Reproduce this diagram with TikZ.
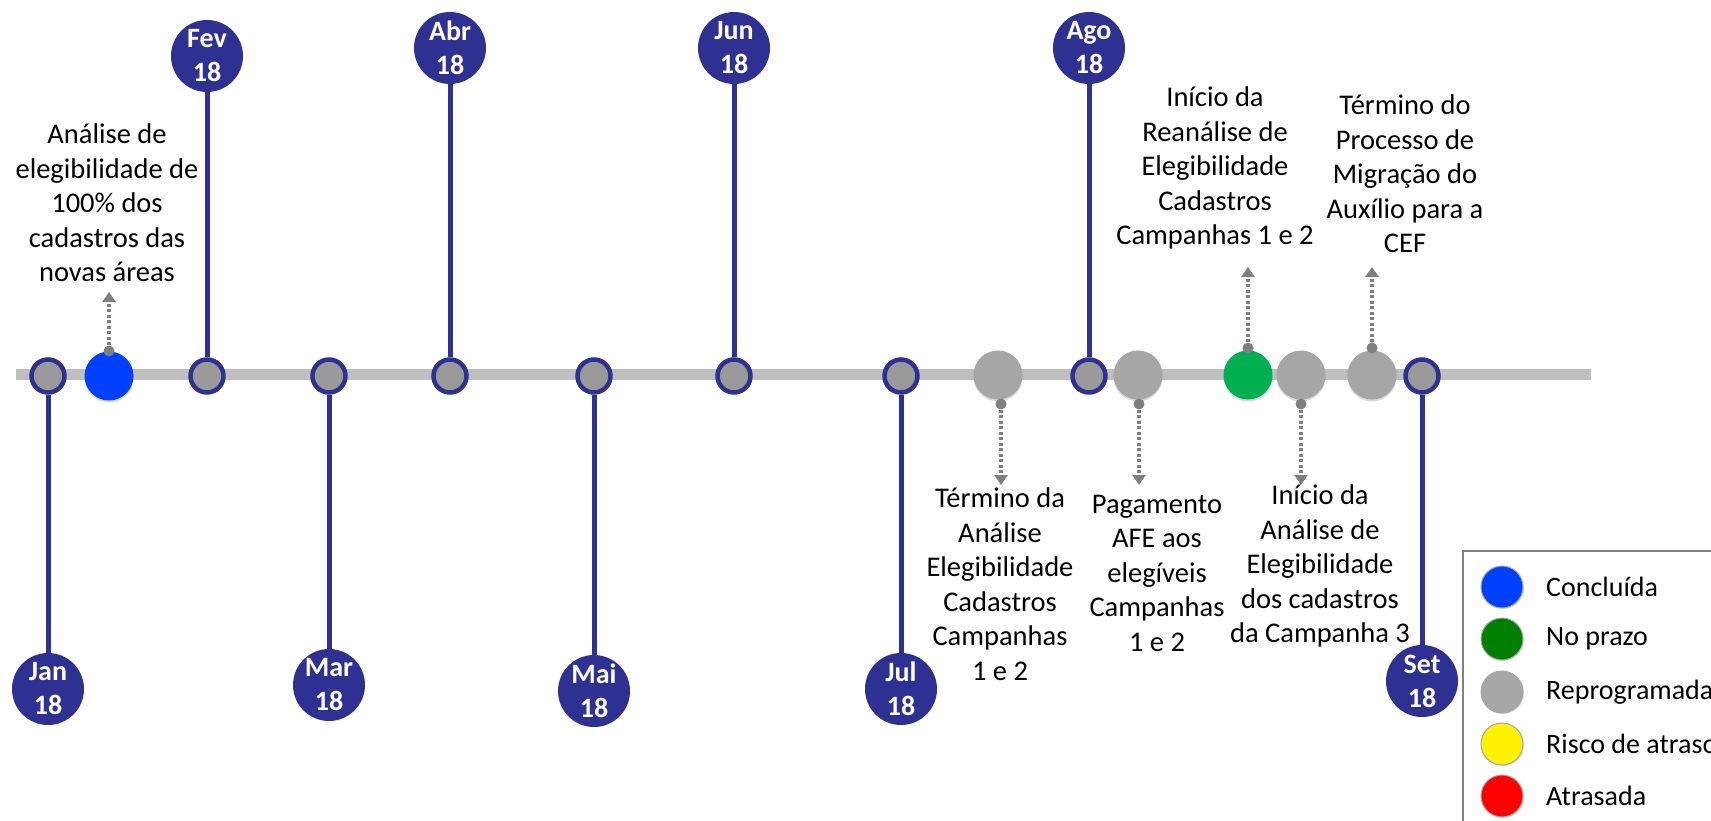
\documentclass[tikz,border=0pt]{standalone}
\usepackage{fontspec}
\setmainfont{Carlito}
\usetikzlibrary{arrows.meta,shadows}

\definecolor{navy}{RGB}{46,49,146}
\definecolor{mgray}{RGB}{153,153,153}
\definecolor{bargray}{RGB}{191,191,191}
\definecolor{sgray}{RGB}{166,166,166}
\definecolor{agray}{RGB}{127,127,127}
\definecolor{sblue}{RGB}{0,64,255}
\definecolor{sgreen}{RGB}{0,176,80}
\definecolor{lgreen}{RGB}{0,128,0}

\begin{document}
\begin{tikzpicture}[x=1pt, y=-1pt,
    mon/.style={circle, draw=navy, line width=4.5pt, fill=mgray, minimum size=33pt, inner sep=0pt},
    monlbl/.style={circle, fill=navy, minimum size=72pt, inner sep=0pt, text=white, align=center, font=\bfseries\fontsize{28}{34}\selectfont},
    stem/.style={draw=navy, line width=5pt},
    stat/.style={circle, minimum size=49pt, inner sep=0pt, drop shadow={shadow xshift=0pt, shadow yshift=-2pt, opacity=.3}},
    tipdot/.style={circle, fill=agray, minimum size=11pt, inner sep=0pt},
    dotarr/.style={draw=agray, line width=3.5pt, dash pattern=on 3pt off 2.5pt, -{Triangle[length=10pt, width=13pt]}},
    note/.style={align=center, font=\fontsize{28.5}{34.5}\selectfont, inner sep=0pt},
    legdot/.style={circle, draw=gray!70, line width=1pt, minimum size=42pt, inner sep=0pt, drop shadow={shadow xshift=1pt, shadow yshift=-1pt, opacity=.25}},
    legtxt/.style={anchor=west, font=\fontsize{28}{34}\selectfont, inner sep=0pt}
]
\clip (0,0) rectangle (1711,821);

% eixo
\draw[bargray, line width=11pt] (16,374) -- (1591,374);

% meses
\node[mon] (jan) at (48,376) {};
\node[mon] (fev) at (207,376) {};
\node[mon] (mar) at (329,376) {};
\node[mon] (abr) at (450,376) {};
\node[mon] (mai) at (594,376) {};
\node[mon] (jun) at (734,376) {};
\node[mon] (jul) at (901,376) {};
\node[mon] (ago) at (1089,376) {};
\node[mon] (set) at (1422,376) {};

\node[monlbl] (janL) at (48,689) {Jan\\18};
\node[monlbl] (fevL) at (207,56) {Fev\\18};
\node[monlbl] (marL) at (329,685) {Mar\\18};
\node[monlbl] (abrL) at (450,48) {Abr\\18};
\node[monlbl] (maiL) at (594,691) {Mai\\18};
\node[monlbl] (junL) at (734,48) {Jun\\18};
\node[monlbl] (julL) at (901,689) {Jul\\18};
\node[monlbl] (agoL) at (1089,48) {Ago\\18};
\node[monlbl] (setL) at (1422,681) {Set\\18};

\draw[stem] (jan) -- (janL);
\draw[stem] (fev) -- (fevL);
\draw[stem] (mar) -- (marL);
\draw[stem] (abr) -- (abrL);
\draw[stem] (mai) -- (maiL);
\draw[stem] (jun) -- (junL);
\draw[stem] (jul) -- (julL);
\draw[stem] (ago) -- (agoL);
\draw[stem] (set) -- (setL);

% marcos
\node[stat, fill=sblue] (analise) at (109,376) {};
\node[stat, fill=sgray] (termAn) at (998,375) {};
\node[stat, fill=sgray] (pagto) at (1138,375) {};
\node[stat, fill=sgreen] (reanal) at (1248,375) {};
\node[stat, fill=sgray] (inicio3) at (1301,375) {};
\node[stat, fill=sgray] (migra) at (1372,375) {};

\node[tipdot] (d1) at (109,351) {};
\node[tipdot] (d2) at (1001,404) {};
\node[tipdot] (d3) at (1139,404) {};
\node[tipdot] (d4) at (1248,348) {};
\node[tipdot] (d5) at (1301,404) {};
\node[tipdot] (d6) at (1372,348) {};

\coordinate (t1) at (109,292);
\coordinate (t2) at (1001,485);
\coordinate (t3) at (1139,485);
\coordinate (t4) at (1248,267);
\coordinate (t5) at (1301,485);
\coordinate (t6) at (1372,267);

\draw[dotarr] (d1) -- (t1);
\draw[dotarr] (d2) -- (t2);
\draw[dotarr] (d3) -- (t3);
\draw[dotarr] (d4) -- (t4);
\draw[dotarr] (d5) -- (t5);
\draw[dotarr] (d6) -- (t6);

\node[note] (n1) at (107,203) {Análise de\\elegibilidade de\\100\% dos\\cadastros das\\novas áreas};
\node[note] (n2) at (1000,584) {Término da\\Análise\\Elegibilidade\\Cadastros\\Campanhas\\1 e 2};
\node[note] (n3) at (1157,573) {Pagamento\\AFE aos\\elegíveis\\Campanhas\\1 e 2};
\node[note] (n4) at (1215,168) {Início da\\Reanálise de\\Elegibilidade\\Cadastros\\Campanhas 1 e 2};
\node[note] (n5) at (1320,566) {Início da\\Análise de\\Elegibilidade\\dos cadastros\\da Campanha 3};
\node[note] (n6) at (1405,174) {Término do\\Processo de\\Migração do\\Auxílio para a\\CEF};

% legenda
\draw[gray, line width=1.5pt, fill=white] (1463,551) rectangle (1740,850);
\node[legdot, fill=sblue] (k1) at (1502,587) {};
\node[legdot, fill=lgreen] (k2) at (1502,639) {};
\node[legdot, fill=sgray] (k3) at (1502,692) {};
\node[legdot, fill=yellow] (k4) at (1502,744) {};
\node[legdot, fill=red] (k5) at (1502,796) {};
\node[legtxt] (kt1) at (1546,587) {Concluída};
\node[legtxt] (kt2) at (1546,639) {No prazo};
\node[legtxt] (kt3) at (1546,692) {Reprogramada};
\node[legtxt] (kt4) at (1546,744) {Risco de atraso};
\node[legtxt] (kt5) at (1546,796) {Atrasada};
\end{tikzpicture}
\end{document}
